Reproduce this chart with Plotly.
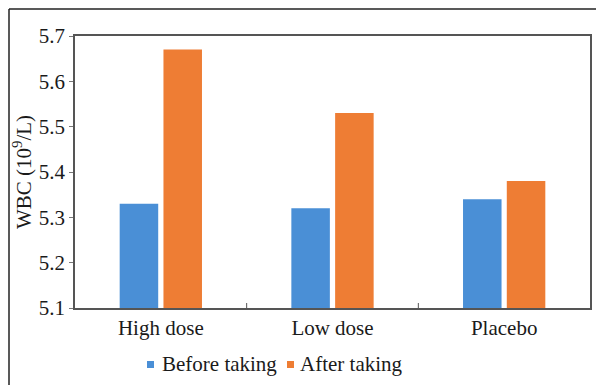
import plotly.graph_objects as go

categories = ["High dose", "Low dose", "Placebo"]
before_taking = [5.33, 5.32, 5.34]
after_taking = [5.67, 5.53, 5.38]
series_names = ["Before taking", "After taking"]
y_ticks = [5.1, 5.2, 5.3, 5.4, 5.5, 5.6, 5.7]

BLUE = "#4A8FD6"
ORANGE = "#EE7D34"
FONT = "Liberation Serif"
FS = 21

# the page body has an 8px default margin; compensate so the screenshot matches
OFF = 8
W, H = 604 - OFF, 385 - OFF
# plot area in screenshot pixels: x 75..590, y 36..308
L = 75 - OFF
T = 36 - OFF
R = W - (590 - OFF)
B = H - (308 - OFF)
pw, ph = W - L - R, H - T - B

def px_x(p):  # screenshot pixel -> paper
    return (p - OFF - L) / pw

def px_y(p):
    return (H - B - (p - OFF)) / ph

fig = go.Figure()
fig.add_trace(go.Bar(x=categories, y=before_taking, name=series_names[0],
                     marker_color=BLUE, showlegend=False, marker_line_width=0))
fig.add_trace(go.Bar(x=categories, y=after_taking, name=series_names[1],
                     marker_color=ORANGE, showlegend=False, marker_line_width=0))

fig.update_layout(
    width=W, height=H,
    margin=dict(l=L, r=R, t=T, b=B, autoexpand=False),
    paper_bgcolor="white", plot_bgcolor="white",
    barmode="group", bargap=0.49, bargroupgap=0.12,
    font=dict(family=FONT, size=FS, color="#1a1a1a"),
    showlegend=False,
    xaxis=dict(showline=True, linecolor="#555", linewidth=1.5, mirror=True,
               ticks="", showgrid=False, tickfont=dict(size=FS, family=FONT), automargin=False),
    yaxis=dict(range=[5.1, 5.7], tickvals=y_ticks, ticktext=[f"{v:.1f}" for v in y_ticks],
               showline=True, linecolor="#555", linewidth=1.5, mirror=True,
               ticks="outside", ticklen=4, tickcolor="#777", showgrid=False,
               tickfont=dict(size=FS, family=FONT), zeroline=False, automargin=False),
)

# category-boundary tick marks on the x axis (pointing inward)
for i in range(1, len(categories)):
    fig.add_shape(type="line", xref="x", yref="paper",
                  x0=i - 0.5, x1=i - 0.5, y0=0, y1=5 / ph,
                  line=dict(color="#555", width=1))

# y axis title
fig.add_annotation(text="WBC (10<sup>9</sup>/L)", xref="paper", yref="paper",
                   x=px_x(22), y=px_y(172), textangle=-90, showarrow=False,
                   font=dict(size=FS, family=FONT), xanchor="center", yanchor="middle",
                   borderpad=0)

# legend (drawn manually for tight spacing)
legend_items = [(series_names[0], BLUE, 147, 160), (series_names[1], ORANGE, 287, 298)]
for name, col, sq_x, txt_x in legend_items:
    fig.add_shape(type="rect", xref="paper", yref="paper",
                  x0=px_x(sq_x), x1=px_x(sq_x + 7), y0=px_y(361), y1=px_y(368),
                  fillcolor=col, line=dict(width=0))
    fig.add_annotation(text=name, xref="paper", yref="paper",
                       x=px_x(txt_x), y=px_y(364), showarrow=False,
                       xanchor="left", yanchor="middle",
                       font=dict(size=FS, family=FONT))

# outer frame lines (top and left)
fig.add_shape(type="line", xref="paper", yref="paper",
              x0=px_x(9), x1=px_x(620), y0=px_y(9), y1=px_y(9),
              line=dict(color="#222", width=1.5))
fig.add_shape(type="line", xref="paper", yref="paper",
              x0=px_x(9), x1=px_x(9), y0=px_y(9), y1=px_y(400),
              line=dict(color="#222", width=1.5))

fig.write_html("out.html")
